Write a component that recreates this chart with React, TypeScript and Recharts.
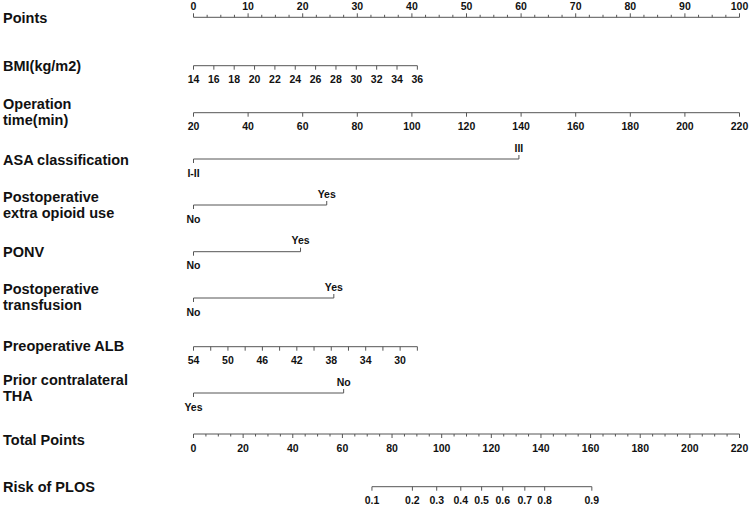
import React from 'react';
import { ScatterChart, Scatter, XAxis, YAxis, ReferenceLine } from 'recharts';

// ---------- data ----------
const pointsLabels = [0, 10, 20, 30, 40, 50, 60, 70, 80, 90, 100];
const pointsMinorStep = 2.5;

const bmiLabels = [14, 16, 18, 20, 22, 24, 26, 28, 30, 32, 34, 36];
const bmiValueRange = [14, 36];
const bmiPointsRange = [0, 41];

const opTimeLabels = [20, 40, 60, 80, 100, 120, 140, 160, 180, 200, 220];
const opTimeValueRange = [20, 220];
const opTimePointsRange = [0, 100];

const asaLevels = ['I-II', 'III'];
const asaPoints = [0, 59.6];

const opioidLevels = ['No', 'Yes'];
const opioidPoints = [0, 24.4];

const ponvLevels = ['No', 'Yes'];
const ponvPoints = [0, 19.6];

const transfusionLevels = ['No', 'Yes'];
const transfusionPoints = [0, 25.7];

const albTicks = [54, 52, 50, 48, 46, 44, 42, 40, 38, 36, 34, 32, 30, 28];
const albLabels = [54, 50, 46, 42, 38, 34, 30];
const albValueRange = [54, 28];
const albPointsRange = [0, 41];

const thaLevels = ['Yes', 'No'];
const thaPoints = [0, 27.5];

const totalLabels = [0, 20, 40, 60, 80, 100, 120, 140, 160, 180, 200, 220];
const totalMinorStep = 5;
const totalMax = 220;

const riskLabels = ['0.1', '0.2', '0.3', '0.4', '0.5', '0.6', '0.7', '0.8', '0.9'];
const riskTotalPoints = [71.9, 88.2, 98.0, 107.7, 116.1, 124.6, 133.5, 141.5, 160.5];

// ---------- layout ----------
const W = 750;
const H = 506;
const LINE = '#555555';
const TXT = '#111111';
const FONT = '"Liberation Sans", Arial, Helvetica, sans-serif';

const rowLineY = {
  points: 17.3,
  bmi: 65.7,
  op: 112.7,
  asa: 159,
  opioid: 205,
  ponv: 251.7,
  trans: 298,
  alb: 346.7,
  tha: 393,
  total: 434,
  risk: 486.7,
};

const titles = [
  { y: 18, lines: ['Points'] },
  { y: 66, lines: ['BMI(kg/m2)'] },
  { y: 111.5, lines: ['Operation', 'time(min)'] },
  { y: 160, lines: ['ASA classification'] },
  { y: 204.5, lines: ['Postoperative', 'extra opioid use'] },
  { y: 252, lines: ['PONV'] },
  { y: 296.5, lines: ['Postoperative', 'transfusion'] },
  { y: 346, lines: ['Preoperative ALB'] },
  { y: 388, lines: ['Prior contralateral', 'THA'] },
  { y: 440, lines: ['Total Points'] },
  { y: 487, lines: ['Risk of PLOS'] },
];

type Tick = { x: number; y: number; dir: number; len: number; label?: string; pos?: 'above' | 'below' };

const lin = (v: number, vr: number[], pr: number[]) => pr[0] + ((v - vr[0]) / (vr[1] - vr[0])) * (pr[1] - pr[0]);
const stepRange = (a: number, b: number, s: number) => {
  const out: number[] = [];
  for (let v = a; v <= b + 1e-9; v += s) out.push(v);
  return out;
};

const ticks: Tick[] = [];
const segments: { x1: number; x2: number; y: number }[] = [];

// Points
segments.push({ x1: 0, x2: 100, y: rowLineY.points });
stepRange(0, 100, pointsMinorStep).forEach((v) => {
  const major = pointsLabels.includes(v);
  ticks.push({ x: v, y: rowLineY.points, dir: -1, len: major ? 4 : 2.5, label: major ? String(v) : undefined, pos: 'above' });
});

// BMI
segments.push({ x1: bmiPointsRange[0], x2: bmiPointsRange[1], y: rowLineY.bmi });
bmiLabels.forEach((v) => {
  ticks.push({ x: lin(v, bmiValueRange, bmiPointsRange), y: rowLineY.bmi, dir: 1, len: 4, label: String(v), pos: 'below' });
});

// Operation time
segments.push({ x1: opTimePointsRange[0], x2: opTimePointsRange[1], y: rowLineY.op });
opTimeLabels.forEach((v) => {
  ticks.push({ x: lin(v, opTimeValueRange, opTimePointsRange), y: rowLineY.op, dir: 1, len: 4, label: String(v), pos: 'below' });
});

// Categorical rows
const cat = (levels: string[], pts: number[], y: number) => {
  segments.push({ x1: pts[0], x2: pts[1], y });
  ticks.push({ x: pts[0], y, dir: 1, len: 4, label: levels[0], pos: 'below' });
  ticks.push({ x: pts[1], y, dir: -1, len: 4, label: levels[1], pos: 'above' });
};
cat(asaLevels, asaPoints, rowLineY.asa);
cat(opioidLevels, opioidPoints, rowLineY.opioid);
cat(ponvLevels, ponvPoints, rowLineY.ponv);
cat(transfusionLevels, transfusionPoints, rowLineY.trans);

// ALB
segments.push({ x1: albPointsRange[0], x2: albPointsRange[1], y: rowLineY.alb });
albTicks.forEach((v) => {
  ticks.push({
    x: lin(v, albValueRange, albPointsRange),
    y: rowLineY.alb,
    dir: 1,
    len: 4,
    label: albLabels.includes(v) ? String(v) : undefined,
    pos: 'below',
  });
});

cat(thaLevels, thaPoints, rowLineY.tha);

// Total points
const totToPts = (t: number) => (t / totalMax) * 100;
segments.push({ x1: 0, x2: 100, y: rowLineY.total });
stepRange(0, totalMax, totalMinorStep).forEach((v) => {
  const major = totalLabels.includes(v);
  ticks.push({ x: totToPts(v), y: rowLineY.total, dir: 1, len: major ? 4 : 2.5, label: major ? String(v) : undefined, pos: 'below' });
});

// Risk
segments.push({ x1: totToPts(riskTotalPoints[0]), x2: totToPts(riskTotalPoints[riskTotalPoints.length - 1]), y: rowLineY.risk });
riskLabels.forEach((l, i) => {
  ticks.push({ x: totToPts(riskTotalPoints[i]), y: rowLineY.risk, dir: 1, len: 4, label: l, pos: 'below' });
});

// ---------- renderers ----------
const TickShape = (props: any) => {
  const { cx, cy, payload } = props;
  if (cx == null || cy == null) return null;
  const t = payload as Tick;
  const ty = t.pos === 'above' ? cy - 7.5 : cy + 17.5;
  return (
    <g>
      <line x1={cx} x2={cx} y1={cy} y2={cy + t.dir * t.len} stroke={LINE} strokeWidth={1} />
      {t.label !== undefined && (
        <text x={cx} y={ty} textAnchor="middle" fontSize={10.5} fontWeight="bold" fontFamily={FONT} fill={TXT}>
          {t.label}
        </text>
      )}
    </g>
  );
};

const TitleTick = (props: any) => {
  const { y, payload } = props;
  const row = titles.find((r) => Math.abs(r.y - payload.value) < 0.01);
  if (!row) return null;
  const n = row.lines.length;
  const gap = 16;
  return (
    <text x={3} y={y} fontSize={14.5} fontWeight="bold" fontFamily={FONT} fill={TXT} textAnchor="start">
      {row.lines.map((ln, i) => (
        <tspan key={i} x={3} y={y + 5 + (i - (n - 1) / 2) * gap}>
          {ln}
        </tspan>
      ))}
    </text>
  );
};

export default function App() {
  return (
    <div style={{ position: 'absolute', left: 0, top: 0, width: W, height: H, background: '#fff' }}>
      <ScatterChart width={W} height={H} margin={{ top: 0, right: 10.5, bottom: 0, left: 0 }}>
        <XAxis type="number" dataKey="x" domain={[0, 100]} hide />
        <YAxis
          type="number"
          dataKey="y"
          domain={[0, H]}
          reversed
          width={193.5}
          ticks={titles.map((t) => t.y)}
          interval={0}
          axisLine={false}
          tickLine={false}
          tick={<TitleTick />}
        />
        {segments.map((s, i) => (
          <ReferenceLine
            key={i}
            segment={[
              { x: s.x1, y: s.y },
              { x: s.x2, y: s.y },
            ]}
            stroke={LINE}
            strokeWidth={1}
            ifOverflow="visible"
          />
        ))}
        <Scatter data={ticks} shape={<TickShape />} isAnimationActive={false} />
      </ScatterChart>
    </div>
  );
}
